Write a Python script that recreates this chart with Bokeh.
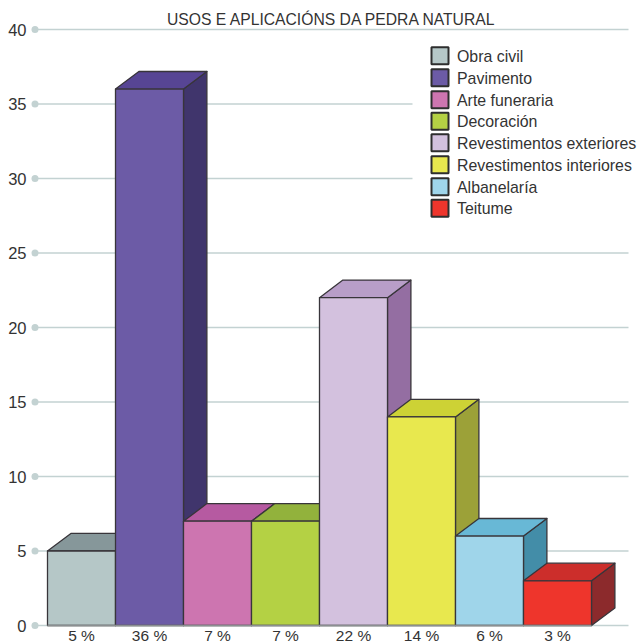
from bokeh.embed import file_html
from bokeh.resources import INLINE
from bokeh.plotting import figure
from bokeh.models import FixedTicker, Range1d, ColumnDataSource
from bokeh.core.properties import value

TITLE = "USOS E APLICACIÓNS DA PEDRA NATURAL"
categories = ["Obra civil", "Pavimento", "Arte funeraria", "Decoración",
              "Revestimentos exteriores", "Revestimentos interiores", "Albanelaría", "Teitume"]
values = [5, 36, 7, 7, 22, 14, 6, 3]
pct_labels = ["5 %", "36 %", "7 %", "7 %", "22 %", "14 %", "6 %", "3 %"]
front_colors = ["#b5c7c7", "#6c5ba6", "#cd75b0", "#b4d144", "#d3c1de", "#e8e84e", "#9fd5ea", "#ee352c"]
top_colors = ["#86979a", "#574594", "#b65aa1", "#92b23c", "#b89ec8", "#cdd235", "#68b8d6", "#cc2e2b"]
side_colors = ["#6d7f80", "#40356c", "#8f4f85", "#7d9432", "#946ea2", "#9ca138", "#438da8", "#8c2a2c"]
y_ticks = [0, 5, 10, 15, 20, 25, 30, 35, 40]

FONT = "Liberation Sans"
TEXT = "#333333"
GRID = "#c3d2d2"
EDGE = "#38353a"

# The plot frame runs to the page edges except for the value-axis gutter on the left.
W, H = 637, 643
LEFT = 30
UX = 68.0          # px per bar
UY = 14.9          # px per value unit
X0 = 47.0          # px of first bar's left edge
Y0 = 625.0         # px of value 0
DX = 23.4 / UX     # depth offset, bar units
DY = 17.6 / UY     # depth offset, value units

x_start = -(X0 - LEFT) / UX
x_end = (W - X0) / UX
y_start = -(H - Y0) / UY
y_end = Y0 / UY

p = figure(width=W, height=H, output_backend="svg", toolbar_location=None,
           x_range=Range1d(x_start, x_end), y_range=Range1d(y_start, y_end),
           min_border_left=LEFT, min_border_right=0,
           min_border_top=0, min_border_bottom=0,
           outline_line_color=None, background_fill_color="white", border_fill_color="white")

centers = [i + 0.5 for i in range(len(values))]

# The category axis sits on value 0, so it takes no room below the frame.
p.xaxis.fixed_location = 0
p.xaxis.ticker = FixedTicker(ticks=centers)
p.xaxis.major_label_overrides = dict(zip(centers, pct_labels))
p.xaxis.axis_line_color = None
p.xaxis.major_tick_line_color = None
p.xaxis.minor_tick_line_color = None
p.xaxis.major_tick_out = 0
p.xaxis.major_tick_in = 0
p.xaxis.major_label_standoff = 1
p.xaxis.major_label_text_font = FONT
p.xaxis.major_label_text_font_size = "15.5px"
p.xaxis.major_label_text_color = TEXT

p.yaxis.ticker = FixedTicker(ticks=y_ticks)
p.yaxis.axis_line_color = None
p.yaxis.major_tick_line_color = None
p.yaxis.minor_tick_line_color = None
p.yaxis.major_tick_out = 0
p.yaxis.major_tick_in = 0
p.yaxis.major_label_standoff = 4
p.yaxis.major_label_text_font = FONT
p.yaxis.major_label_text_font_size = "16.5px"
p.yaxis.major_label_text_color = TEXT

p.xgrid.visible = False
p.ygrid.visible = False

# Horizontal rules with a round marker at the left end.
dot_x = (34.5 - X0) / UX
rule_end = (628 - X0) / UX
for t in y_ticks:
    p.line([dot_x, rule_end], [t, t], line_color=GRID, line_width=1.5)
p.scatter([dot_x] * len(y_ticks), y_ticks, size=7, color=GRID, line_color=None)

# Extruded bars: side and top faces first, front face over them, left to right.
for i, v in enumerate(values):
    x0, x1 = i, i + 1
    p.patch([x1, x1 + DX, x1 + DX, x1], [0, DY, v + DY, v],
            fill_color=side_colors[i], line_color=EDGE, line_width=1.3, line_join="round")
    p.patch([x0, x0 + DX, x1 + DX, x1], [v, v + DY, v + DY, v],
            fill_color=top_colors[i], line_color=EDGE, line_width=1.3, line_join="round")
    p.patch([x0, x1, x1, x0], [0, 0, v, v],
            fill_color=front_colors[i], line_color=EDGE, line_width=1.3, line_join="round")

# Baseline under the bars.
p.line([0, len(values)], [0, 0], line_color="#8b8f91", line_width=1.5)


def px_x(px):
    return (px - X0) / UX


def px_y(px):
    return (Y0 - px) / UY


p.text([px_x(331.5)], [px_y(18.5)], text=[TITLE],
       text_font=value(FONT), text_font_size="15.7px", text_color=TEXT,
       text_align="center", text_baseline="middle")

# Hand-built legend on a white panel that interrupts the rules.
p.quad(left=px_x(412), right=px_x(637), top=px_y(40), bottom=px_y(225), fill_color="white", line_color=None)
leg_y = [55.5, 77.5, 99.5, 121, 142.5, 164.5, 186.5, 208]
for name, col, ly in zip(categories, front_colors, leg_y):
    p.quad(left=px_x(431), right=px_x(448), top=px_y(ly - 8.8), bottom=px_y(ly + 8.3),
           fill_color=col, line_color="#2e2e2e", line_width=2)
src = ColumnDataSource(dict(x=[px_x(456.5)] * len(categories), y=[px_y(l) for l in leg_y], t=categories))
p.text("x", "y", text="t", source=src, text_font=value(FONT), text_font_size="15.9px",
       text_color=TEXT, text_align="left", text_baseline="middle")

open("out.html", "w").write(file_html(p, INLINE))
